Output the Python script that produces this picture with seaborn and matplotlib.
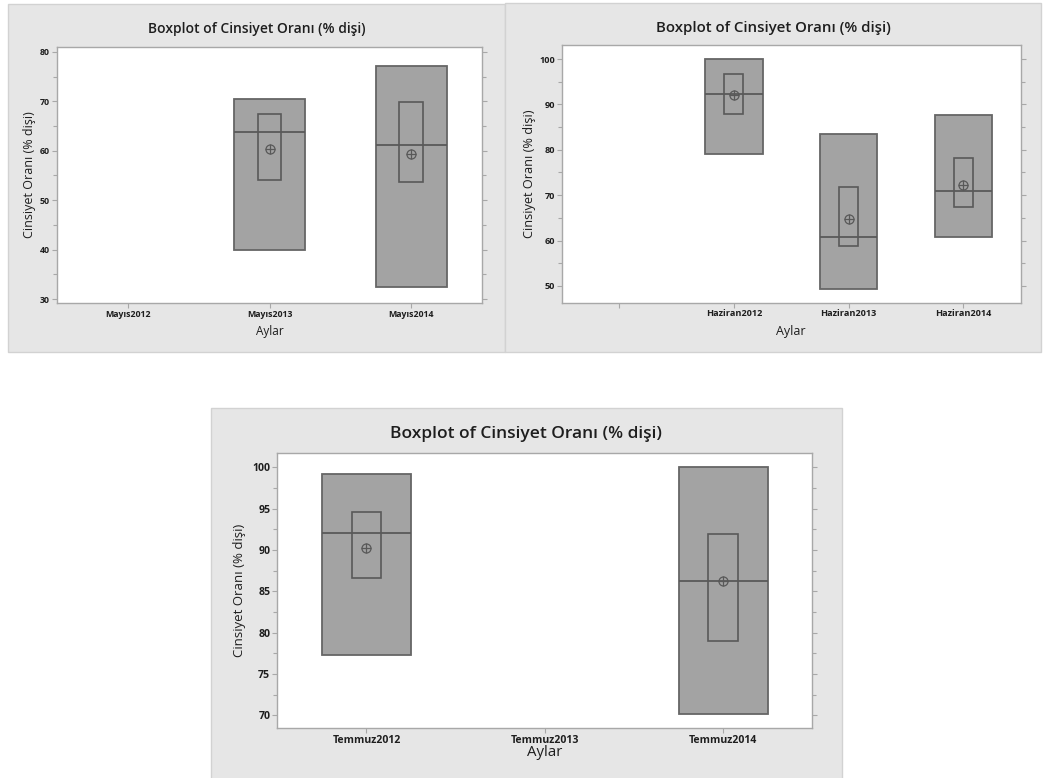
import matplotlib
matplotlib.use("Agg")
import matplotlib.pyplot as plt
from matplotlib.patches import Rectangle
from matplotlib.ticker import MultipleLocator
import pandas as pd
import seaborn as sns

TITLE = "Boxplot of Cinsiyet Oranı (% dişi)"
Y_LABEL = "Cinsiyet Oranı (% dişi)"
X_LABEL = "Aylar"

# May: range box (min-max), median, interval box, mean
mayis_order = ["Mayıs2012", "Mayıs2013", "Mayıs2014"]
mayis_groups = ["Mayıs2013", "Mayıs2014"]
mayis_min = [39.9, 32.4]
mayis_max = [70.5, 77.1]
mayis_median = [63.8, 61.2]
mayis_ci_low = [54.1, 53.6]
mayis_ci_high = [67.4, 69.9]
mayis_mean = [60.3, 59.4]

# June (first level has no label)
haziran_order = ["", "Haziran2012", "Haziran2013", "Haziran2014"]
haziran_groups = ["Haziran2012", "Haziran2013", "Haziran2014"]
haziran_min = [79.0, 49.4, 60.8]
haziran_max = [100.0, 83.4, 87.6]
haziran_median = [92.4, 60.8, 70.9]
haziran_ci_low = [87.9, 58.7, 67.3]
haziran_ci_high = [96.8, 71.8, 78.3]
haziran_mean = [92.1, 64.8, 72.2]

# July
temmuz_order = ["Temmuz2012", "Temmuz2013", "Temmuz2014"]
temmuz_groups = ["Temmuz2012", "Temmuz2014"]
temmuz_min = [77.3, 70.2]
temmuz_max = [99.2, 100.0]
temmuz_median = [92.1, 86.2]
temmuz_ci_low = [86.6, 79.0]
temmuz_ci_high = [94.6, 91.9]
temmuz_mean = [90.2, 86.2]

BG = "#e6e6e6"
BG_EDGE = "#d2d2d2"
SPINE = "#a8a8a8"
BOX_FILL = "#a3a3a3"
BOX_EDGE = "#666666"
LINE = "#595959"
TEXT = "#1e1e1e"

sns.set_style("ticks")
plt.rcParams["font.family"] = ["Open Sans", "DejaVu Sans"]

W, H = 1043, 778
fig = plt.figure(figsize=(W / 100, H / 100), dpi=100)
fig.patch.set_facecolor("white")


def fig_rect(x0, y0, x1, y1):
    """Pixel box (top-left origin) -> figure fraction [l, b, w, h]."""
    return [x0 / W, 1 - y1 / H, (x1 - x0) / W, (y1 - y0) / H]


def panel_background(x0, y0, x1, y1):
    l, b, w, h = fig_rect(x0, y0, x1, y1)
    fig.add_artist(Rectangle((l, b), w, h, transform=fig.transFigure,
                             facecolor=BG, edgecolor=BG_EDGE, linewidth=1.0,
                             zorder=-5))


def draw_panel(ax, order, groups, lo, hi, med, ci_lo, ci_hi, mean,
               ylim, major, minor, sizes, title_xy, xlabel_y, ylabel_x):
    df = pd.DataFrame({"Aylar": groups, "lo": lo, "hi": hi, "med": med,
                       "ci_lo": ci_lo, "ci_hi": ci_hi, "mean": mean})
    df["span"] = df["hi"] - df["lo"]
    df["ci_span"] = df["ci_hi"] - df["ci_lo"]

    # range box from minimum to maximum
    sns.barplot(data=df, x="Aylar", y="span", order=order,
                bottom=df["lo"].to_numpy(), width=0.5, errorbar=None,
                color=BOX_FILL, saturation=1,
                facecolor=BOX_FILL, edgecolor=BOX_EDGE, linewidth=1.3,
                ax=ax, zorder=2)
    # interval box
    sns.barplot(data=df, x="Aylar", y="ci_span", order=order,
                bottom=df["ci_lo"].to_numpy(), width=0.166, errorbar=None,
                color=LINE, saturation=1,
                facecolor="none", edgecolor=LINE, linewidth=1.2,
                ax=ax, zorder=3)
    # median line across the range box
    pos = [order.index(g) for g in groups]
    ax.hlines(df["med"], [p - 0.25 for p in pos], [p + 0.25 for p in pos],
              colors=LINE, linewidth=1.3, zorder=4)
    # mean symbol (circled plus)
    sns.pointplot(data=df, x="Aylar", y="mean", order=order, errorbar=None,
                  color=LINE, marker="o", linestyle="none", markersize=6.5,
                  markerfacecolor="none", markeredgewidth=0.9, ax=ax, zorder=5)
    sns.pointplot(data=df, x="Aylar", y="mean", order=order, errorbar=None,
                  color=LINE, marker="+", linestyle="none", markersize=6.5,
                  markeredgewidth=0.9, ax=ax, zorder=5)

    ax.set_facecolor("white")
    ax.set_xlim(-0.5, len(order) - 0.5)
    ax.set_ylim(*ylim)
    ax.yaxis.set_major_locator(MultipleLocator(major))
    ax.yaxis.set_minor_locator(MultipleLocator(minor))
    for s in ax.spines.values():
        s.set_visible(True)
        s.set_color(SPINE)
        s.set_linewidth(1.0)
    ax.tick_params(axis="both", which="both", color=SPINE, labelcolor=TEXT,
                   width=0.8, direction="out")
    ax.tick_params(axis="y", which="both", right=True, labelright=False)
    ax.tick_params(axis="y", which="major", length=3.5, pad=1.5,
                   labelsize=sizes["tick"])
    ax.tick_params(axis="y", which="minor", length=3)
    ax.tick_params(axis="x", length=3.5, pad=sizes["xpad"],
                   labelsize=sizes["tick"])
    for lab in ax.get_xticklabels() + ax.get_yticklabels():
        lab.set_fontweight("bold")

    ax.set_xlabel(X_LABEL, fontsize=sizes["xlabel"], color=TEXT,
                  fontweight="medium")
    ax.set_ylabel(Y_LABEL, fontsize=sizes["ylabel"], color=TEXT,
                  fontweight="medium")
    ax.xaxis.set_label_coords(0.5, xlabel_y)
    ax.yaxis.set_label_coords(ylabel_x, 0.5)

    fig.text(title_xy[0] / W, 1 - title_xy[1] / H, TITLE,
             fontsize=sizes["title"], fontweight="semibold", color=TEXT,
             ha="center", va="baseline")


# ---- May panel ----
panel_background(8, 4, 505, 352)
ax1 = fig.add_axes(fig_rect(57, 47, 482, 303))
draw_panel(ax1, mayis_order, mayis_groups, mayis_min, mayis_max, mayis_median,
           mayis_ci_low, mayis_ci_high, mayis_mean,
           ylim=(29.2, 81.0), major=10, minor=5,
           sizes={"tick": 6.3, "xpad": 1.2, "xlabel": 8.5, "ylabel": 9.0,
                  "title": 10},
           title_xy=(256.5, 32.7), xlabel_y=-0.086, ylabel_x=-0.05)

# ---- June panel ----
panel_background(505, 3, 1041, 352)
ax2 = fig.add_axes(fig_rect(561.7, 45, 1020.7, 302.7))
draw_panel(ax2, haziran_order, haziran_groups, haziran_min, haziran_max,
           haziran_median, haziran_ci_low, haziran_ci_high, haziran_mean,
           ylim=(46.3, 103.1), major=10, minor=5,
           sizes={"tick": 6.6, "xpad": 1.2, "xlabel": 9.0, "ylabel": 9.2,
                  "title": 10.8},
           title_xy=(773, 31.7), xlabel_y=-0.0865, ylabel_x=-0.057)

# ---- July panel ----
panel_background(211, 408, 842, 779)
ax3 = fig.add_axes(fig_rect(277.3, 452.7, 812.3, 727.7))
draw_panel(ax3, temmuz_order, temmuz_groups, temmuz_min, temmuz_max,
           temmuz_median, temmuz_ci_low, temmuz_ci_high, temmuz_mean,
           ylim=(68.5, 101.77), major=5, minor=2.5,
           sizes={"tick": 7.6, "xpad": 1.5, "xlabel": 10.8, "ylabel": 9.5,
                  "title": 12.5},
           title_xy=(526, 437.7), xlabel_y=-0.063, ylabel_x=-0.058)

fig.savefig("out.png", dpi=100, facecolor="white")
